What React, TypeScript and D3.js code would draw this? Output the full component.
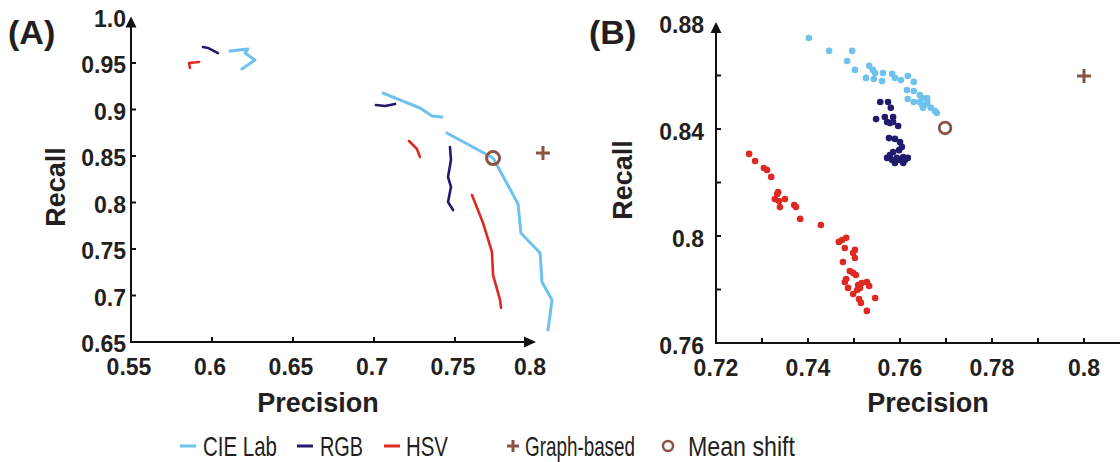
import React from "react";
import * as d3 from "d3";

type P = [number, number];

// Panel A: precision / recall curves (each colour space has several segments)
const cieLabA: P[][] = [
  [[0.6111, 0.9629], [0.6222, 0.9651], [0.6204, 0.9608], [0.6265, 0.9532], [0.6185, 0.9435]],
  [[0.7056, 0.9177], [0.7284, 0.9016], [0.7358, 0.893], [0.742, 0.892]],
  [[0.745, 0.8747], [0.7735, 0.8478], [0.7759, 0.8403], [0.7889, 0.7984], [0.7907, 0.7672], [0.8025, 0.7457], [0.8037, 0.7145], [0.8099, 0.6952], [0.8074, 0.6629]],
];
const rgbA: P[][] = [
  [[0.5944, 0.9672], [0.5975, 0.9662], [0.6037, 0.9607]],
  [[0.7012, 0.9048], [0.7068, 0.9038], [0.713, 0.906]],
  [[0.7469, 0.8597], [0.7475, 0.8457], [0.7457, 0.8274], [0.7475, 0.8167], [0.7457, 0.8005], [0.7488, 0.7919]],
];
const hsvA: P[][] = [
  [[0.5864, 0.9446], [0.5858, 0.95], [0.592, 0.9511]],
  [[0.7216, 0.8661], [0.7265, 0.8575], [0.7284, 0.8489]],
  [[0.7605, 0.808], [0.7673, 0.778], [0.7728, 0.7468], [0.7735, 0.722], [0.7778, 0.6952], [0.7784, 0.6866]],
];
const graphBasedA: P = [0.8043, 0.8532];
const meanShiftA: P = [0.7735, 0.8478];

// Panel B: scatter of (precision, recall)
const cieLabB: P[] = [
  [0.7402, 0.874], [0.7446, 0.8692], [0.7496, 0.8692], [0.7485, 0.8654], [0.7502, 0.8621],
  [0.7533, 0.8636], [0.7541, 0.8621], [0.7546, 0.8609], [0.7526, 0.8591], [0.7543, 0.8587],
  [0.7561, 0.8579], [0.7563, 0.8609], [0.7583, 0.8606], [0.7589, 0.8591], [0.7602, 0.8583],
  [0.7617, 0.8598], [0.763, 0.8576], [0.7615, 0.8546], [0.763, 0.8542], [0.7643, 0.8527],
  [0.7617, 0.8512], [0.763, 0.8501], [0.7648, 0.8516], [0.7659, 0.8516], [0.7643, 0.8501],
  [0.7659, 0.8501], [0.7648, 0.849], [0.7659, 0.8493], [0.765, 0.8479], [0.7667, 0.8479],
  [0.7676, 0.8467], [0.768, 0.846],
];
const rgbB: P[] = [
  [0.7557, 0.8501], [0.7574, 0.8501], [0.758, 0.8479], [0.7548, 0.8437], [0.7567, 0.8445],
  [0.7585, 0.8445], [0.7572, 0.8426], [0.7578, 0.8422], [0.7585, 0.8426], [0.7596, 0.8411],
  [0.7576, 0.8366], [0.7589, 0.8363], [0.76, 0.8351], [0.7604, 0.8333], [0.7598, 0.8321],
  [0.7585, 0.8314], [0.7578, 0.8303], [0.7572, 0.8292], [0.7583, 0.8284], [0.7593, 0.8292],
  [0.7598, 0.8284], [0.7607, 0.8295], [0.7617, 0.8292], [0.7611, 0.8284], [0.7589, 0.8273],
  [0.7607, 0.8273],
];
const hsvB: P[] = [
  [0.7272, 0.8307], [0.7285, 0.828], [0.7304, 0.8254], [0.7311, 0.8247], [0.732, 0.8221],
  [0.7335, 0.8164], [0.7333, 0.8157], [0.7328, 0.8138], [0.7337, 0.8131], [0.735, 0.8138],
  [0.7339, 0.8108], [0.737, 0.8116], [0.7374, 0.8108], [0.7383, 0.8064], [0.7428, 0.8041],
  [0.7467, 0.7978], [0.7474, 0.7985], [0.7483, 0.7993], [0.748, 0.7955], [0.7498, 0.7936],
  [0.7502, 0.7948], [0.7502, 0.7918], [0.7476, 0.7903], [0.7491, 0.7869], [0.7498, 0.7862],
  [0.7504, 0.7854], [0.7483, 0.7839], [0.748, 0.7828], [0.7487, 0.7806], [0.7509, 0.7817],
  [0.7517, 0.7824], [0.7528, 0.7828], [0.7533, 0.7813], [0.7513, 0.7806], [0.7507, 0.7798],
  [0.7498, 0.7783], [0.7511, 0.7764], [0.7515, 0.775], [0.7546, 0.7768], [0.7528, 0.772],
];
const graphBasedB: P = [0.8, 0.8598];
const meanShiftB: P = [0.7698, 0.8404];

const xTicksA = [0.55, 0.6, 0.65, 0.7, 0.75, 0.8];
const xTickLabelsA = ["0.55", "0.6", "0.65", "0.7", "0.75", "0.8"];
const yTicksA = [0.65, 0.7, 0.75, 0.8, 0.85, 0.9, 0.95, 1.0];
const yTickLabelsA = ["0.65", "0.7", "0.75", "0.8", "0.85", "0.9", "0.95", "1.0"];
const xTicksB = [0.72, 0.73, 0.74, 0.75, 0.76, 0.77, 0.78, 0.79, 0.8];
const xTickLabelsB = ["0.72", "", "0.74", "", "0.76", "", "0.78", "", "0.8"];
const yTicksB = [0.76, 0.78, 0.8, 0.82, 0.84, 0.86, 0.88];
const yTickLabelsB = ["0.76", "", "0.8", "", "0.84", "", "0.88"];

const legendLines = ["CIE Lab", "RGB", "HSV"];
const legendMarkers = ["Graph-based", "Mean shift"];

const C_LAB = "#6fc2ee";
const C_RGB = "#211a6e";
const C_HSV = "#dd2922";
const C_BROWN = "#8c5345";
const AX = "#111";
const FONT = "'Liberation Sans', Arial, sans-serif";

const Plus = ({ x, y, s = 7 }: { x: number; y: number; s?: number }) => (
  <path d={`M${x - s},${y}H${x + s}M${x},${y - s}V${y + s}`} stroke={C_BROWN} strokeWidth={3} />
);

export default function App() {
  const xA = d3.scaleLinear().domain([0.55, 0.8]).range([131, 536]);
  const yA = d3.scaleLinear().domain([0.65, 1.0]).range([342, 16.5]);
  const xB = d3.scaleLinear().domain([0.72, 0.8]).range([716, 1084]);
  const yB = d3.scaleLinear().domain([0.76, 0.88]).range([343, 22]);
  const lineA = d3.line<P>().x((d) => xA(d[0])).y((d) => yA(d[1]));

  const tickFont = { fontFamily: FONT, fontWeight: 700, fontSize: 23, fill: "#231f20" };
  const titleFont = { fontFamily: FONT, fontWeight: 700, fontSize: 27, fill: "#231f20" };
  const legendFont = { fontFamily: FONT, fontSize: 28, fill: "#231f20" };

  const seriesA: [P[][], string, number][] = [
    [cieLabA, C_LAB, 3],
    [rgbA, C_RGB, 2.6],
    [hsvA, C_HSV, 2.6],
  ];

  const legendColors = [C_LAB, C_RGB, C_HSV];
  const legendLineX = [180, 297, 384];
  const legendTextX = [203, 320, 406];
  const legendTextW = [74, 43, 42];
  const legendMarkX = [513, 668];
  const legendMarkTextX = [525, 688];
  const legendMarkTextW = [110, 107];

  return (
    <svg width={1120} height={462} style={{ position: "absolute", left: 0, top: 0 }}>
      <rect width={1120} height={462} fill="#fff" />
      {/* Panel labels */}
      <text x={8} y={44} style={{ ...titleFont, fontSize: 34 }}>(A)</text>
      <text x={589} y={44} style={{ ...titleFont, fontSize: 34 }}>(B)</text>

      {/* Panel A axes */}
      <g stroke={AX} strokeWidth={2}>
        <line x1={xA(0.55)} x2={xA(0.55)} y1={yA(0.65)} y2={yA(1.0) + 8} />
        <line x1={xA(0.55) - 1} x2={xA(0.8) - 10} y1={yA(0.65)} y2={yA(0.65)} />
        {xTicksA.slice(1, -1).map((t) => (
          <line key={t} x1={xA(t)} x2={xA(t)} y1={yA(0.65)} y2={yA(0.65) - 5} />
        ))}
        {yTicksA.slice(1, -1).map((t) => (
          <line key={t} x1={xA(0.55)} x2={xA(0.55) + 5} y1={yA(t)} y2={yA(t)} />
        ))}
      </g>
      <path d={`M${xA(0.55)},${yA(1.0)}l-5.5,11h11z`} fill={AX} />
      <path d={`M${xA(0.8)},${yA(0.65)}l-12,-5.5v11z`} fill={AX} />
      {yTicksA.map((t, i) => (
        <text key={t} x={126} y={yA(t) + 2} dy="0.35em" textAnchor="end" style={tickFont}>
          {yTickLabelsA[i]}
        </text>
      ))}
      {xTicksA.map((t, i) => (
        <text key={t} x={xA(t) - (i === xTicksA.length - 1 ? 6 : 2)} y={375} textAnchor="middle" style={tickFont}>
          {xTickLabelsA[i]}
        </text>
      ))}
      <text x={318} y={412} textAnchor="middle" style={titleFont}>Precision</text>
      <text transform="translate(65,187) rotate(-90)" textAnchor="middle" style={titleFont}>Recall</text>

      {/* Panel A curves */}
      {seriesA.map(([segs, col, w], si) =>
        segs.map((seg, k) => (
          <path key={`${si}-${k}`} d={lineA(seg) || ""} fill="none" stroke={col} strokeWidth={w}
            strokeLinejoin="round" strokeLinecap="round" />
        ))
      )}
      <circle cx={xA(meanShiftA[0])} cy={yA(meanShiftA[1])} r={6.5} fill="none" stroke={C_BROWN} strokeWidth={3} />
      <Plus x={xA(graphBasedA[0])} y={yA(graphBasedA[1])} />

      {/* Panel B axes */}
      <g stroke={AX} strokeWidth={2}>
        <line x1={xB(0.72)} x2={xB(0.72)} y1={yB(0.76)} y2={yB(0.88) + 8} />
        <line x1={xB(0.72) - 1} x2={1120} y1={yB(0.76)} y2={yB(0.76)} />
        {xTicksB.slice(1).map((t) => (
          <line key={t} x1={xB(t)} x2={xB(t)} y1={yB(0.76)} y2={yB(0.76) - 5} />
        ))}
        {yTicksB.slice(1, -1).map((t) => (
          <line key={t} x1={xB(0.72)} x2={xB(0.72) + 5} y1={yB(t)} y2={yB(t)} />
        ))}
      </g>
      <path d={`M${xB(0.72)},${yB(0.88)}l-5.5,11h11z`} fill={AX} />
      {yTicksB.map((t, i) => (
        <text key={t} x={704} y={yB(t) + 3} dy="0.35em" textAnchor="end" style={tickFont}>
          {yTickLabelsB[i]}
        </text>
      ))}
      {xTicksB.map((t, i) => (
        <text key={t} x={xB(t)} y={376} textAnchor="middle" style={tickFont}>
          {xTickLabelsB[i]}
        </text>
      ))}
      <text x={928} y={412} textAnchor="middle" style={titleFont}>Precision</text>
      <text transform="translate(632,180) rotate(-90)" textAnchor="middle" style={titleFont}>Recall</text>

      {/* Panel B points */}
      {([
        [cieLabB, C_LAB],
        [rgbB, C_RGB],
        [hsvB, C_HSV],
      ] as [P[], string][]).map(([pts, col], si) =>
        pts.map((p, k) => <circle key={`${si}-${k}`} cx={xB(p[0])} cy={yB(p[1])} r={3.3} fill={col} />)
      )}
      <circle cx={xB(meanShiftB[0])} cy={yB(meanShiftB[1])} r={5.8} fill="none" stroke={C_BROWN} strokeWidth={2.8} />
      <Plus x={xB(graphBasedB[0])} y={yB(graphBasedB[1])} />

      {/* Legend */}
      {legendLines.map((name, i) => (
        <g key={name}>
          <line x1={legendLineX[i]} x2={legendLineX[i] + 16} y1={446} y2={446} stroke={legendColors[i]} strokeWidth={3} />
          <text x={legendTextX[i]} y={456} textLength={legendTextW[i]} lengthAdjust="spacingAndGlyphs" style={legendFont}>
            {name}
          </text>
        </g>
      ))}
      <Plus x={legendMarkX[0]} y={446} s={6} />
      <circle cx={legendMarkX[1]} cy={446} r={5} fill="none" stroke={C_BROWN} strokeWidth={2.5} />
      {legendMarkers.map((name, i) => (
        <text key={name} x={legendMarkTextX[i]} y={456} textLength={legendMarkTextW[i]} lengthAdjust="spacingAndGlyphs"
          style={legendFont}>{name}</text>
      ))}
    </svg>
  );
}
